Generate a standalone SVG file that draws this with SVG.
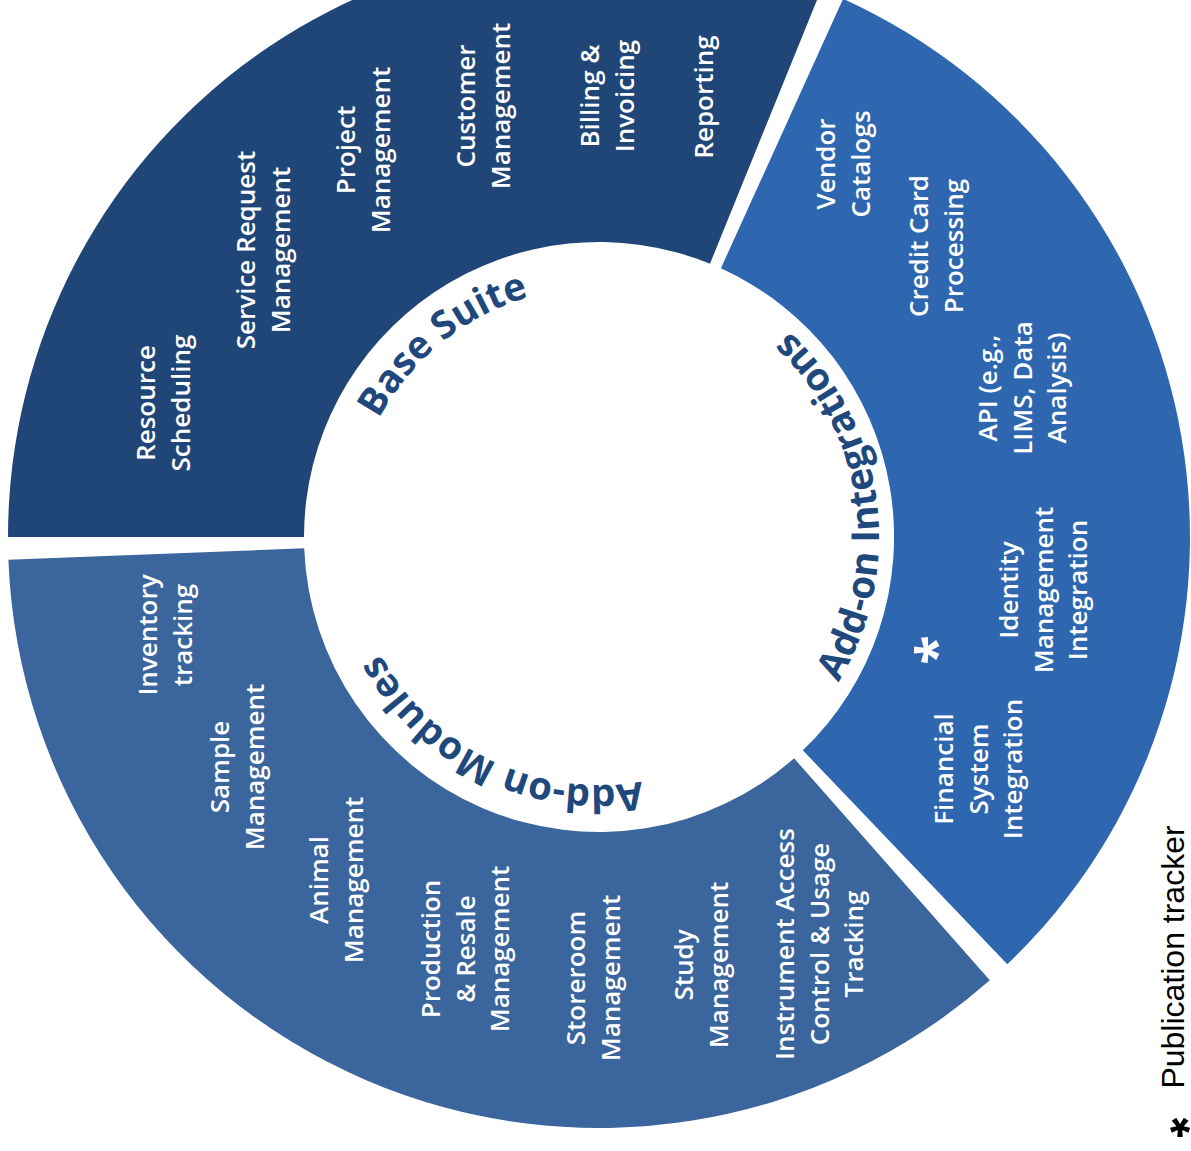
<svg xmlns="http://www.w3.org/2000/svg" width="1191" height="1151" viewBox="0 0 1191 1151">
<style>
.lbl{font-family:"Open Sans","Liberation Sans",sans-serif;font-weight:600;font-size:26px;fill:#fff;text-anchor:middle}
.ttl{font-family:"Open Sans","Liberation Sans",sans-serif;font-weight:700;font-size:38.5px;fill:#1F497D}
.base{fill:#204577}
.integ{fill:#2E67B0}
.mods{fill:#3A659D}
</style>
<defs>
<path id="arcBase" d="M 352.1 576.1 A 250 250 0 0 1 688.6 303.6"/>
<path id="arcMods" d="M 737.7 742.6 A 248 248 0 0 1 351.6 554.3"/>
<path id="arcInteg" d="M 771.4 757.6 A 280 280 0 0 0 703.9 277.4"/>
</defs>
<rect width="1191" height="1151" fill="#fff"/>

<g id="base-suite">
<path class="base" d="M 8 537 A 591 591 0 0 1 821.3 -10.6 L 710.0 263.7 A 295 295 0 0 0 304 537 Z"/>
<text class="ttl" text-anchor="middle"><textPath href="#arcBase" startOffset="50%">Base Suite</textPath></text>
<text class="lbl" transform="translate(155,403) rotate(-90)"><tspan x="0" y="0">Resource</tspan><tspan x="0" y="34.7">Scheduling</tspan></text>
<text class="lbl" transform="translate(255,250) rotate(-90)"><tspan x="0" y="0">Service Request</tspan><tspan x="0" y="34.7">Management</tspan></text>
<text class="lbl" transform="translate(355,150) rotate(-90)"><tspan x="0" y="0">Project</tspan><tspan x="0" y="34.7">Management</tspan></text>
<text class="lbl" transform="translate(475,106) rotate(-90)"><tspan x="0" y="0">Customer</tspan><tspan x="0" y="34.7">Management</tspan></text>
<text class="lbl" transform="translate(599,96) rotate(-90)"><tspan x="0" y="0">Billing &amp;</tspan><tspan x="0" y="34.7">Invoicing</tspan></text>
<text class="lbl" transform="translate(713,97) rotate(-90)"><tspan x="0" y="0">Reporting</tspan></text>
</g>

<g id="addon-integrations">
<path class="integ" d="M 843.1 -1.2 A 591 591 0 0 1 1007.3 964.3 L 802.8 750.3 A 295 295 0 0 0 720.9 268.3 Z"/>
<text class="ttl" text-anchor="middle"><textPath href="#arcInteg" startOffset="50%">Add-on Integrations</textPath></text>
<text class="lbl" transform="translate(835,164) rotate(-90)"><tspan x="0" y="0">Vendor</tspan><tspan x="0" y="34.7">Catalogs</tspan></text>
<text class="lbl" transform="translate(928,246) rotate(-90)"><tspan x="0" y="0">Credit Card</tspan><tspan x="0" y="34.7">Processing</tspan></text>
<text class="lbl" transform="translate(997,388) rotate(-90)"><tspan x="0" y="0">API (e.g.,</tspan><tspan x="0" y="34.7">LIMS, Data</tspan><tspan x="0" y="69.4">Analysis)</tspan></text>
<text class="lbl" transform="translate(1018,590) rotate(-90)"><tspan x="0" y="0">Identity</tspan><tspan x="0" y="34.7">Management</tspan><tspan x="0" y="69.4">Integration</tspan></text>
<text class="lbl" style="font-weight:700;font-size:54px" transform="translate(955,650) rotate(-90)">*</text>
<text class="lbl" transform="translate(953,769) rotate(-90)"><tspan x="0" y="0">Financial</tspan><tspan x="0" y="34.7">System</tspan><tspan x="0" y="69.4">Integration</tspan></text>
</g>

<g id="addon-modules">
<path class="mods" d="M 989.8 980.3 A 591 591 0 0 1 8.4 559.7 L 304.2 548.3 A 295 295 0 0 0 794.1 758.3 Z"/>
<text class="ttl" text-anchor="middle"><textPath href="#arcMods" startOffset="50%">Add-on Modules</textPath></text>
<text class="lbl" transform="translate(157,635) rotate(-90)"><tspan x="0" y="0">Inventory</tspan><tspan x="0" y="34.7">tracking</tspan></text>
<text class="lbl" transform="translate(229,767) rotate(-90)"><tspan x="0" y="0">Sample</tspan><tspan x="0" y="34.7">Management</tspan></text>
<text class="lbl" transform="translate(328,880) rotate(-90)"><tspan x="0" y="0">Animal</tspan><tspan x="0" y="34.7">Management</tspan></text>
<text class="lbl" transform="translate(440,949) rotate(-90)"><tspan x="0" y="0">Production</tspan><tspan x="0" y="34.7">&amp; Resale</tspan><tspan x="0" y="69.4">Management</tspan></text>
<text class="lbl" transform="translate(585,978) rotate(-90)"><tspan x="0" y="0">Storeroom</tspan><tspan x="0" y="34.7">Management</tspan></text>
<text class="lbl" transform="translate(693,965) rotate(-90)"><tspan x="0" y="0">Study</tspan><tspan x="0" y="34.7">Management</tspan></text>
<text class="lbl" transform="translate(794,944) rotate(-90)"><tspan x="0" y="0">Instrument Access</tspan><tspan x="0" y="34.7">Control &amp; Usage</tspan><tspan x="0" y="69.4">Tracking</tspan></text>
</g>

<g id="legend">
<text transform="translate(1180,1101) rotate(180)" font-family="Liberation Sans, Arial, sans-serif" font-weight="700" font-size="52" text-anchor="middle" fill="#000">*</text>
<text transform="translate(1184,957) rotate(-90)" font-family="Liberation Sans, Arial, sans-serif" font-size="32" text-anchor="middle" fill="#000">Publication tracker</text>
</g>
</svg>
